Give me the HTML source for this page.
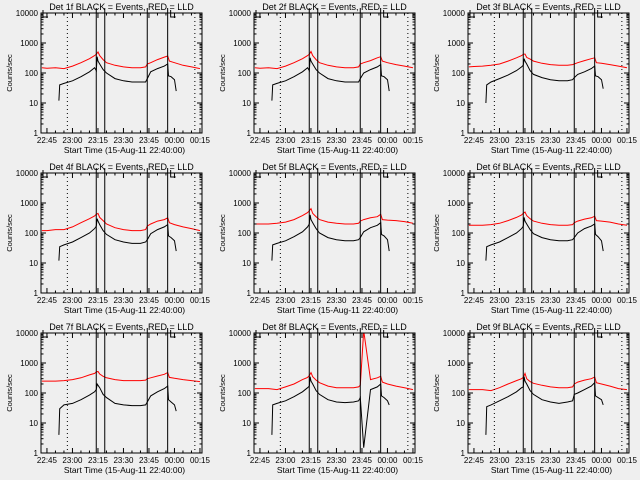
<!DOCTYPE html>
<html><head><meta charset="utf-8"><style>
body{margin:0;background:#efefef;}
svg{display:block;font-family:"Liberation Sans",sans-serif;}
</style></head><body>
<svg id="c" width="640" height="480"></svg>
<script>
// time samples in minutes since 22:40:00
const redTimes=[2,5,10,15,20,25,30,33,34,35,36,38,40,45,50,55,60,63,64,66,70,74,76,77,80,85,90,95];
const blackTimes=[12,12.5,15,20,25,30,33,34,34.5,35,36,38,40,45,50,55,60,63,64,66,70,74,76,76.5,78,80,81];
const detNames=["1f","2f","3f","4f","5f","6f","7f","8f","9f"];
const red1=[150,145,150,140,170,220,300,380,420,500,380,280,220,180,160,150,150,160,200,220,280,340,370,250,220,180,160,140];
const red2=[150,145,150,140,170,220,300,380,420,520,380,280,220,180,160,150,150,160,200,220,260,320,350,250,220,190,170,150];
const red3=[160,165,170,180,200,250,320,380,420,430,330,290,250,210,190,180,180,190,200,220,260,300,320,220,210,190,170,150];
const red4=[120,120,130,130,160,220,300,370,420,450,330,260,200,150,130,120,120,130,170,200,250,280,320,220,190,160,140,120];
const red5=[200,200,200,210,230,280,380,480,550,650,450,350,280,230,210,200,200,210,250,280,320,350,420,280,270,260,240,210];
const red6=[180,180,180,190,210,260,330,400,450,500,380,300,250,210,190,180,180,190,220,250,290,320,360,260,250,230,200,180];
const red7=[250,250,250,260,280,320,400,450,500,520,430,360,320,280,260,260,260,270,300,320,370,420,480,330,310,280,260,240];
const red8=[140,140,140,130,160,200,280,330,380,480,350,270,220,170,150,150,150,160,180,12000,280,320,360,230,200,170,150,130];
const red9=[130,130,130,120,150,200,260,300,330,450,300,240,210,180,160,150,150,160,200,230,270,300,340,220,200,170,140,130];
const blk1=[12,40,45,55,75,110,150,120,350,250,200,130,100,65,55,50,50,50,65,110,140,170,200,80,75,60,25];
const blk2=[12,40,45,55,75,110,150,120,320,250,200,130,100,65,55,50,50,50,65,100,130,160,190,80,75,60,25];
const blk3=[10,40,50,65,85,120,160,180,300,250,200,120,90,70,60,55,55,60,70,90,110,140,170,80,75,60,30];
const blk4=[12,35,40,50,70,100,140,170,300,250,190,120,90,60,50,45,45,50,60,95,130,160,190,80,70,55,25];
const blk5=[12,40,45,55,75,110,160,200,400,280,220,140,100,70,60,55,55,60,70,110,150,180,220,90,80,60,25];
const blk6=[12,35,40,50,70,100,140,170,330,250,200,130,95,70,60,55,55,60,70,100,140,170,200,90,75,55,25];
const blk7=[4,30,40,45,60,85,110,130,200,180,150,90,70,45,40,38,38,40,50,80,110,140,170,60,50,40,25];
const blk8=[4,40,45,55,75,110,150,170,350,250,200,120,90,60,50,48,50,55,70,1.5,130,160,200,80,70,55,40];
const blk9=[4,35,40,55,75,110,150,160,350,250,200,120,90,60,50,45,50,55,90,100,130,170,220,80,70,60,40];
const redSets=[red1,red2,red3,red4,red5,red6,red7,red8,red9];
const blkSets=[blk1,blk2,blk3,blk4,blk5,blk6,blk7,blk8,blk9];
const solidLines=[34,39,64,76];
const dottedLines=[17,92];
const xTickTimes=[5,20,35,50,65,80,95];
const xTickLabels=["22:45","23:00","23:15","23:30","23:45","00:00","00:15"];
const yTickVals=[1,10,100,1000,10000];
const yTickLabels=["1","10","100","1000","10000"];

const svg=document.getElementById('c');
const NS="http://www.w3.org/2000/svg";
function mk(t,a,p){const e=document.createElementNS(NS,t);for(const k in a)e.setAttribute(k,a[k]);(p||svg).appendChild(e);return e;}
const PL=41,PR=202,PT=13,PB=133,T0=1.5,T1=96.2;
for(let i=0;i<9;i++){
  const ox=Math.round((i%3)*213.3), oy=Math.floor(i/3)*160;
  const g=mk('g',{transform:`translate(${ox},${oy})`});
  
  
  const X=t=>PL+(t-T0)/(T1-T0)*(PR-PL);
  const Y=v=>PB-(Math.log10(Math.max(v,1)))/4*(PB-PT);
  const clip='cl'+i;
  const cp=mk('clipPath',{id:clip},g);mk('rect',{x:PL,y:PT,width:PR-PL,height:PB-PT},cp);
  const step=(ts,vs)=>{let d='';ts.forEach((t,j)=>{d+=(j?'L':'M')+X(t).toFixed(1)+','+Y(vs[j]).toFixed(1);});return d;};
  const r=mk('path',{d:step(redTimes,redSets[i]),fill:'none',stroke:'#ff0000','stroke-width':1,'clip-path':`url(#${clip})`},g);
  
  
  const b=mk('path',{d:step(blackTimes,blkSets[i]),fill:'none',stroke:'#000','stroke-width':1,'clip-path':`url(#${clip})`},g);
  
  
  solidLines.forEach(t=>{const l=mk('line',{x1:X(t),x2:X(t),y1:PT-5,y2:PB,stroke:'#000','stroke-width':1},g);
    
    });
  dottedLines.forEach(t=>{const l=mk('line',{x1:X(t),x2:X(t),y1:PT,y2:PB,stroke:'#000','stroke-width':1,'stroke-dasharray':'1,3'},g);
    
    });
  mk('path',{d:`M${PL+2},${PT-3}V${PT+4}H${PL+7}M${X(76)+3},${PT-3}V${PT+4}H${X(76)+8}`,fill:'none',stroke:'#000'},g);
  const f=mk('rect',{x:PL,y:PT,width:PR-PL,height:PB-PT,fill:'none',stroke:'#000','stroke-width':1},g);
  
  
  yTickVals.forEach((v,j)=>{const y=Y(v);
    mk('line',{x1:PL,x2:PL+5,y1:y,y2:y,stroke:'#000'},g);mk('line',{x1:PR,x2:PR-5,y1:y,y2:y,stroke:'#000'},g);
    const tx=mk('text',{x:PL-3,y:y+3,'font-size':8,'text-anchor':'end'},g);tx.textContent=yTickLabels[j];
    
    
    if(j<4)for(let m=2;m<10;m++){const ym=Y(v*m);mk('line',{x1:PL,x2:PL+2.5,y1:ym,y2:ym,stroke:'#000'},g);mk('line',{x1:PR,x2:PR-2.5,y1:ym,y2:ym,stroke:'#000'},g);}
  });
  xTickTimes.forEach((t,j)=>{const x=X(t);
    mk('line',{x1:x,x2:x,y1:PB,y2:PB-5,stroke:'#000'},g);mk('line',{x1:x,x2:x,y1:PT,y2:PT+5,stroke:'#000'},g);
    const tx=mk('text',{x:x,y:PB+10,'font-size':8,'text-anchor':'middle'},g);tx.textContent=xTickLabels[j];
    
    
    for(let m=5;m<15;m+=5){const xm=X(t+m);if(xm<PR){mk('line',{x1:xm,x2:xm,y1:PB,y2:PB-2.5,stroke:'#000'},g);mk('line',{x1:xm,x2:xm,y1:PT,y2:PT+2.5,stroke:'#000'},g);}}
  });
  const ti=mk('text',{x:(PL+PR)/2,y:PT-3,'font-size':9,'text-anchor':'middle'},g);
  ti.textContent=`Det ${detNames[i]} BLACK = Events, RED = LLD`;
  
  
  const xl=mk('text',{x:(PL+PR)/2+3,y:PB+20,'font-size':8.5,'text-anchor':'middle'},g);
  xl.textContent='Start Time (15-Aug-11 22:40:00)';
  
  
  const yl=mk('text',{x:0,y:0,'font-size':7.5,'text-anchor':'middle',transform:`translate(12,${(PT+PB)/2}) rotate(-90)`},g);
  yl.textContent='Counts/sec';
  
  
}
</script>
</body></html>
